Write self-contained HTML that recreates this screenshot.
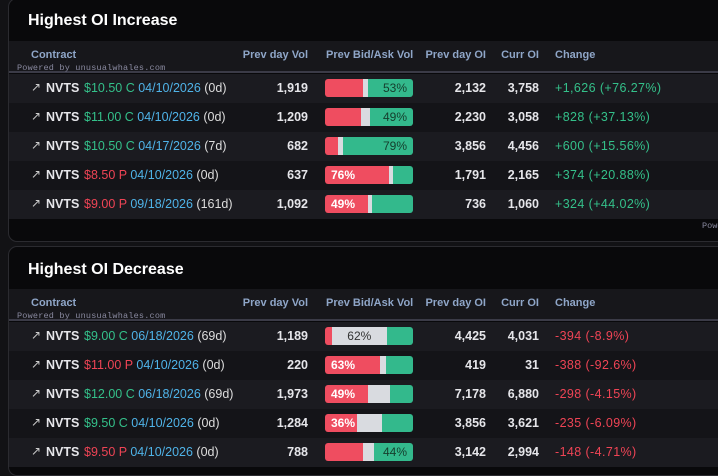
<!DOCTYPE html>
<html><head><meta charset="utf-8">
<style>
*{box-sizing:border-box;margin:0;padding:0}
body{width:718px;height:460px;overflow:hidden;background:#121215;font-family:"Liberation Sans",sans-serif;position:relative}
.panel{position:absolute;left:8px;width:720px;background:#09090b;border:1px solid #2b2b30;border-radius:9px;overflow:hidden}
.title{position:absolute;left:19px;color:#fff;font-size:16px;font-weight:bold}
.hdr{position:absolute;left:0;width:100%;height:32px;background:#17171b;border-bottom:2px solid #3b3b47}
.hdr span{position:absolute;top:8px;color:#8fa6c8;font-size:11px;font-weight:bold}
.pw{position:absolute;left:8px;top:22px;font-family:"Liberation Mono",monospace;font-size:8.5px;color:#8a8aa0;letter-spacing:0.2px}
.row{position:absolute;left:0;width:100%;height:29px;font-size:12.5px;color:#e6e6ea;font-weight:bold}
.row span{position:absolute;top:7px;white-space:nowrap}
.bar{position:absolute;left:316px;top:5px;width:88px;height:18px;border-radius:3px;overflow:hidden;display:flex}
.bar div{height:100%}
.row .bl{position:absolute;top:0;line-height:18px;font-size:12px}
</style></head><body>
<div class="panel" style="top:-2px;height:244px" id="p1">
 <div class="title" style="top:13px">Highest OI Increase</div>
</div>
<div class="panel" style="top:246px;height:230px" id="p2">
 <div class="title" style="top:14px">Highest OI Decrease</div>
</div>
<div style="position:absolute;left:702px;top:221px;font-family:'Liberation Mono',monospace;font-size:8.5px;color:#8a8aa0">Powered</div>
<script>
// Increase table data
const incStrike=["$10.50 C","$11.00 C","$10.50 C","$8.50 P","$9.00 P"];
const incExp=["04/10/2026","04/10/2026","04/17/2026","04/10/2026","09/18/2026"];
const incDte=["(0d)","(0d)","(7d)","(0d)","(161d)"];
const incVol=["1,919","1,209","682","637","1,092"];
const incBid=[43,41,15,73,49];
const incMid=[6,10,6,4,4];
const incAsk=[51,49,79,23,47];
const incLabel=["53%","49%","79%","76%","49%"];
const incPrevOI=["2,132","2,230","3,856","1,791","736"];
const incCurrOI=["3,758","3,058","4,456","2,165","1,060"];
const incChange=["+1,626 (+76.27%)","+828 (+37.13%)","+600 (+15.56%)","+374 (+20.88%)","+324 (+44.02%)"];
// Decrease table data
const decStrike=["$9.00 C","$11.00 P","$12.00 C","$9.50 C","$9.50 P"];
const decExp=["06/18/2026","04/10/2026","06/18/2026","04/10/2026","04/10/2026"];
const decDte=["(69d)","(0d)","(69d)","(0d)","(0d)"];
const decVol=["1,189","220","1,973","1,284","788"];
const decBid=[8,63,49,36,43];
const decMid=[62,6,25,29,13];
const decAsk=[30,31,26,35,44];
const decLabel=["62%","63%","49%","36%","44%"];
const decPrevOI=["4,425","419","7,178","3,856","3,142"];
const decCurrOI=["4,031","31","6,880","3,621","2,994"];
const decChange=["-394 (-8.9%)","-388 (-92.6%)","-298 (-4.15%)","-235 (-6.09%)","-148 (-4.71%)"];

function build(p,strike,exp,dte,vol,bid,mid,ask,lab,poi,coi,chg,pos){
  const hdr=document.createElement('div');hdr.className='hdr';hdr.style.top='42px';
  
  
  hdr.innerHTML='<span style="left:22px">Contract</span><span style="right:419px">Prev day Vol</span><span style="left:317px">Prev Bid/Ask Vol</span><span style="right:241px">Prev day OI</span><span style="right:188px">Curr OI</span><span style="left:546px">Change</span><div class="pw">Powered by unusualwhales.com</div>';
  p.appendChild(hdr);
  for(let i=0;i<strike.length;i++){
    const r=document.createElement('div');r.className='row';
    
    
    r.style.top=(75+i*29)+'px';r.style.background=i%2?'#141418':'#1b1b20';
    const sc=strike[i].endsWith('C')?'#34c08a':'#ef4455';
    const cc=pos?'#34c08a':'#ef4455';
    let bl='';const mx=Math.max(bid[i],mid[i],ask[i]);
    if(mx===bid[i])bl='<span class="bl" style="left:6px;color:#fff">'+lab[i]+'</span>';
    else if(mx===ask[i])bl='<span class="bl" style="right:6px;color:#153d2c;font-weight:normal">'+lab[i]+'</span>';
    else bl='<span class="bl" style="left:'+(bid[i]+mid[i]/2)/100*88+'px;transform:translateX(-50%);color:#333;font-weight:normal">'+lab[i]+'</span>';
    r.innerHTML='<span style="left:22px;top:6px;color:#ccc;font-weight:normal;font-size:12px">&#8599;</span><span style="left:37px">NVTS</span>'+
     '<span style="left:75px;font-weight:normal"><b style="font-weight:normal;color:'+sc+'">'+strike[i]+'</b> <b style="font-weight:normal;color:#4fb3e8">'+exp[i]+'</b> <b style="font-weight:normal;color:#ddd">'+dte[i]+'</b></span>'+
     '<span style="right:419px">'+vol[i]+'</span>'+
     '<div class="bar"><div style="width:'+bid[i]+'%;background:#ef4d60"></div><div style="width:'+mid[i]+'%;background:#d9dbe0"></div><div style="width:'+ask[i]+'%;background:#33b98c"></div>'+bl+'</div>'+
     '<span style="right:241px">'+poi[i]+'</span><span style="right:188px">'+coi[i]+'</span>'+
     '<span style="left:546px;color:'+cc+';font-weight:normal;letter-spacing:0.4px">'+chg[i]+'</span>';
    p.appendChild(r);
  }
}
build(document.getElementById('p1'),incStrike,incExp,incDte,incVol,incBid,incMid,incAsk,incLabel,incPrevOI,incCurrOI,incChange,true);
build(document.getElementById('p2'),decStrike,decExp,decDte,decVol,decBid,decMid,decAsk,decLabel,decPrevOI,decCurrOI,decChange,false);
</script>
</body></html>
